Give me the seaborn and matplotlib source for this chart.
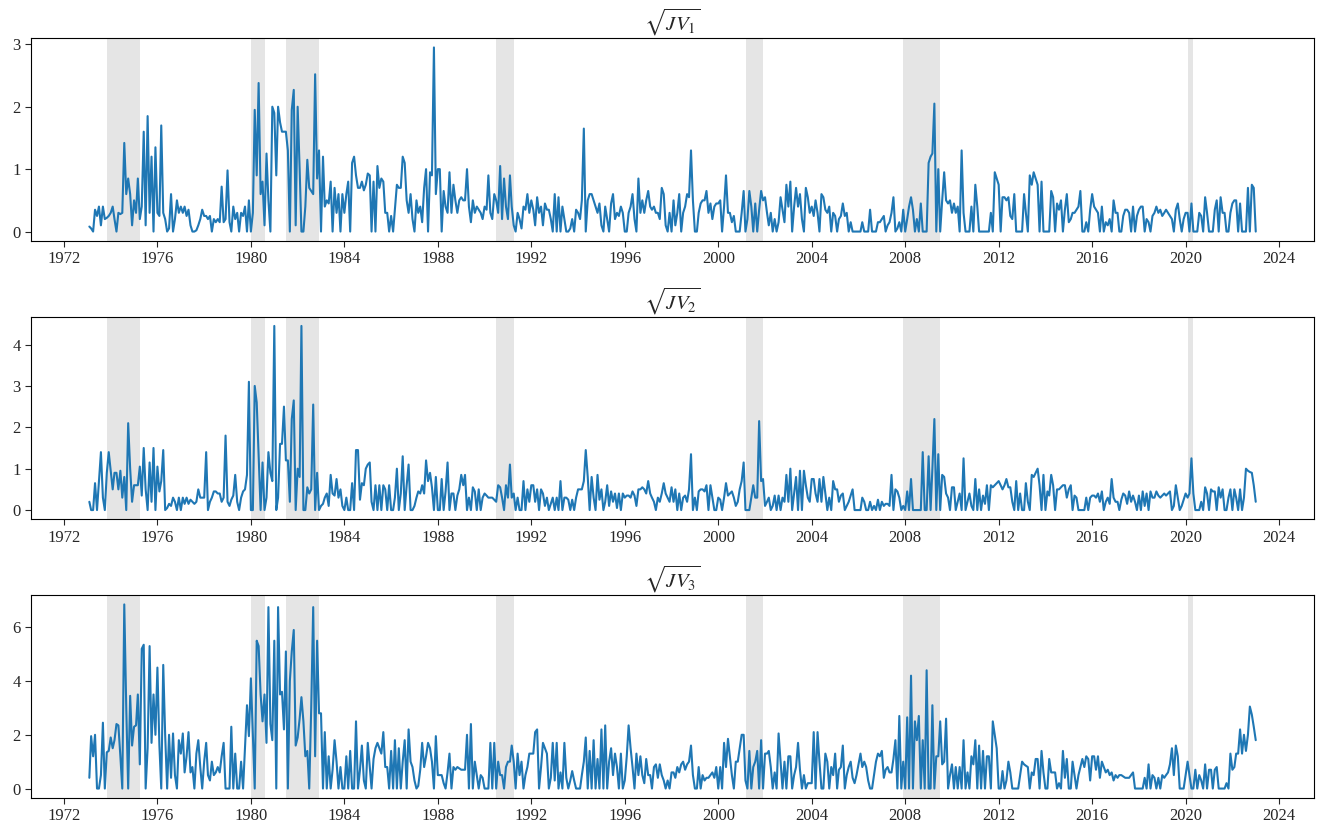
import numpy as np
import pandas as pd
import matplotlib
matplotlib.use("Agg")
import matplotlib.pyplot as plt
import matplotlib.dates as mdates
import seaborn as sns

# ---------------- data (monthly, Jan 1973 - Dec 2022, one row per year) ----------------
jv1 = [
    0.08, 0.05, 0.0, 0.35, 0.25, 0.4, 0.1, 0.4, 0.2, 0.22, 0.25, 0.3,
    0.4, 0.2, 0.0, 0.3, 0.28, 0.3, 1.42, 0.6, 0.85, 0.6, 0.1, 0.5,
    0.3, 0.85, 0.2, 0.4, 1.6, 0.1, 1.85, 0.3, 1.2, 0.0, 1.35, 0.3,
    0.25, 1.7, 0.3, 0.2, 0.0, 0.05, 0.6, 0.0, 0.2, 0.5, 0.3, 0.4,
    0.3, 0.4, 0.25, 0.35, 0.1, 0.0, 0.0, 0.02, 0.1, 0.2, 0.35, 0.25,
    0.25, 0.2, 0.25, 0.0, 0.2, 0.15, 0.2, 0.15, 0.72, 0.15, 0.2, 0.98,
    0.15, 0.0, 0.4, 0.2, 0.3, 0.0, 0.3, 0.25, 0.4, 0.0, 0.5, 0.0,
    0.3, 1.95, 0.9, 2.38, 0.6, 0.8, 0.1, 1.25, 0.5, 0.0, 2.0, 1.9,
    0.9, 2.0, 1.75, 1.6, 1.6, 1.6, 1.3, 0.0, 1.95, 2.27, 0.1, 2.0,
    1.0, 0.0, 0.0, 0.4, 1.15, 0.7, 0.65, 0.6, 2.52, 0.85, 1.3, 0.0,
    1.2, 0.4, 0.5, 0.45, 0.8, 0.0, 0.7, 0.3, 0.6, 0.0, 0.6, 0.3,
    0.6, 0.8, 0.0, 1.1, 1.2, 0.9, 0.7, 0.7, 0.8, 0.66, 0.75, 0.93,
    0.9, 0.0, 0.8, 0.0, 1.05, 0.7, 0.85, 0.8, 0.3, 0.3, 0.0, 0.25,
    0.0, 0.35, 0.75, 0.7, 0.7, 1.2, 1.1, 0.5, 0.3, 0.6, 0.2, 0.0,
    0.5, 0.3, 0.4, 0.15, 0.7, 1.0, 0.0, 0.95, 0.9, 2.95, 0.6, 1.0,
    1.0, 0.0, 0.65, 0.4, 0.3, 0.95, 0.3, 0.75, 0.5, 0.3, 0.5, 0.55,
    0.5, 0.5, 1.0, 0.4, 0.15, 0.5, 0.3, 0.4, 0.35, 0.3, 0.2, 0.4,
    0.35, 0.9, 0.3, 0.2, 0.6, 0.5, 0.3, 1.05, 0.2, 0.85, 0.4, 0.2,
    0.9, 0.4, 0.1, 0.0, 0.3, 0.2, 0.05, 0.4, 0.35, 0.6, 0.3, 0.5,
    0.35, 0.1, 0.55, 0.3, 0.4, 0.1, 0.45, 0.35, 0.35, 0.2, 0.0, 0.6,
    0.0, 0.55, 0.0, 0.4, 0.2, 0.0, 0.0, 0.05, 0.2, 0.0, 0.35, 0.3,
    0.2, 0.5, 1.65, 0.0, 0.5, 0.6, 0.6, 0.5, 0.4, 0.3, 0.45, 0.1,
    0.0, 0.4, 0.2, 0.0, 0.45, 0.6, 0.2, 0.3, 0.25, 0.4, 0.3, 0.0,
    0.0, 0.3, 0.4, 0.6, 0.2, 0.0, 0.85, 0.3, 0.5, 0.3, 0.5, 0.65,
    0.4, 0.35, 0.4, 0.3, 0.3, 0.2, 0.7, 0.6, 0.1, 0.0, 0.3, 0.0,
    0.5, 0.1, 0.3, 0.6, 0.0, 0.3, 0.4, 0.6, 0.55, 1.3, 0.5, 0.0,
    0.0, 0.3, 0.45, 0.5, 0.5, 0.65, 0.3, 0.45, 0.2, 0.4, 0.45, 0.45,
    0.5, 0.0, 0.4, 0.9, 0.3, 0.3, 0.15, 0.25, 0.0, 0.0, 0.0, 0.3,
    0.65, 0.0, 0.2, 0.65, 0.4, 0.0, 0.45, 0.0, 0.35, 0.65, 0.5, 0.55,
    0.3, 0.1, 0.3, 0.0, 0.2, 0.0, 0.15, 0.55, 0.35, 0.15, 0.75, 0.4,
    0.8, 0.0, 0.4, 0.7, 0.4, 0.6, 0.2, 0.0, 0.7, 0.55, 0.3, 0.4,
    0.25, 0.5, 0.3, 0.0, 0.6, 0.55, 0.35, 0.3, 0.4, 0.0, 0.3, 0.25,
    0.0, 0.2, 0.25, 0.45, 0.25, 0.3, 0.0, 0.15, 0.0, 0.0, 0.0, 0.0,
    0.0, 0.15, 0.0, 0.0, 0.0, 0.35, 0.0, 0.0, 0.0, 0.15, 0.15, 0.2,
    0.25, 0.0, 0.1, 0.15, 0.3, 0.55, 0.0, 0.05, 0.15, 0.0, 0.35, 0.0,
    0.2, 0.4, 0.55, 0.35, 0.0, 0.2, 0.0, 0.45, 0.0, 0.0, 0.0, 1.1,
    1.2, 1.25, 2.05, 0.0, 1.0, 0.0, 0.5, 0.95, 0.5, 0.45, 0.5, 0.3,
    0.45, 0.3, 0.4, 0.0, 1.3, 0.3, 0.0, 0.0, 0.0, 0.4, 0.0, 0.75,
    0.4, 0.0, 0.0, 0.0, 0.0, 0.0, 0.0, 0.3, 0.0, 0.95, 0.85, 0.75,
    0.0, 0.55, 0.55, 0.5, 0.55, 0.25, 0.2, 0.6, 0.0, 0.0, 0.0, 0.0,
    0.6, 0.3, 0.0, 0.9, 0.75, 0.95, 0.85, 0.75, 0.0, 0.8, 0.0, 0.0,
    0.0, 0.0, 0.65, 0.55, 0.0, 0.45, 0.35, 0.5, 0.0, 0.35, 0.6, 0.15,
    0.2, 0.3, 0.3, 0.35, 0.4, 0.65, 0.0, 0.0, 0.15, 0.0, 0.35, 0.6,
    0.4, 0.35, 0.3, 0.0, 0.4, 0.0, 0.15, 0.1, 0.2, 0.0, 0.5, 0.3,
    0.3, 0.0, 0.0, 0.25, 0.35, 0.35, 0.3, 0.0, 0.4, 0.0, 0.25, 0.35,
    0.4, 0.4, 0.0, 0.2, 0.15, 0.0, 0.25, 0.3, 0.4, 0.3, 0.35, 0.25,
    0.3, 0.35, 0.3, 0.25, 0.2, 0.0, 0.35, 0.45, 0.2, 0.0, 0.2, 0.3,
    0.3, 0.0, 0.45, 0.0, 0.0, 0.0, 0.3, 0.25, 0.0, 0.55, 0.3, 0.0,
    0.0, 0.0, 0.35, 0.5, 0.0, 0.55, 0.3, 0.3, 0.0, 0.0, 0.3, 0.45,
    0.5, 0.5, 0.0, 0.45, 0.0, 0.0, 0.0, 0.7, 0.0, 0.75, 0.7, 0.0,
]

jv2 = [
    0.2, 0.0, 0.0, 0.65, 0.0, 0.7, 1.4, 0.3, 0.0, 0.9, 1.4, 0.95,
    0.5, 0.9, 0.9, 0.5, 0.95, 0.3, 0.8, 0.0, 2.1, 1.0, 0.2, 0.6,
    0.6, 0.6, 1.05, 0.35, 1.5, 0.5, 0.0, 1.15, 0.2, 1.5, 0.0, 1.05,
    0.45, 0.7, 1.45, 0.0, 0.05, 0.15, 0.1, 0.3, 0.2, 0.0, 0.3, 0.0,
    0.3, 0.15, 0.3, 0.15, 0.25, 0.2, 0.15, 0.2, 0.5, 0.3, 0.3, 0.3,
    1.4, 0.0, 0.2, 0.3, 0.45, 0.45, 0.4, 0.4, 0.2, 0.3, 1.8, 0.2,
    0.1, 0.25, 0.35, 0.85, 0.2, 0.0, 0.3, 0.45, 0.5, 0.85, 3.1, 0.0,
    0.0, 3.0, 2.6, 1.3, 0.0, 1.15, 0.0, 0.3, 1.4, 0.9, 0.7, 4.45,
    0.0, 0.3, 1.6, 1.6, 2.5, 1.2, 1.2, 0.2, 2.2, 2.65, 0.0, 1.0,
    0.8, 4.45, 0.0, 0.0, 0.55, 0.4, 0.5, 2.55, 0.0, 0.9, 0.0, 0.1,
    0.15, 0.3, 0.4, 0.1, 0.85, 0.4, 0.35, 0.75, 0.3, 0.5, 0.1, 0.0,
    0.3, 0.0, 0.0, 0.65, 0.0, 1.45, 1.45, 0.25, 0.65, 0.6, 1.0, 1.1,
    1.15, 0.2, 0.0, 0.6, 0.0, 0.6, 0.0, 0.6, 0.5, 0.0, 0.6, 0.0,
    0.0, 0.3, 1.0, 0.0, 0.4, 1.3, 0.0, 0.6, 1.1, 0.0, 0.0, 0.1,
    0.3, 0.45, 0.4, 0.6, 0.4, 1.2, 0.7, 0.9, 0.55, 0.0, 0.8, 0.0,
    0.0, 0.75, 0.0, 0.45, 1.15, 0.0, 0.4, 0.4, 0.0, 0.35, 0.5, 0.85,
    0.6, 0.85, 0.0, 0.3, 0.0, 0.55, 0.45, 0.0, 0.5, 0.0, 0.3, 0.4,
    0.35, 0.3, 0.3, 0.3, 0.25, 0.2, 0.6, 0.55, 0.3, 0.0, 0.6, 0.3,
    1.1, 0.3, 0.4, 0.0, 0.3, 0.0, 0.0, 0.7, 0.0, 0.5, 0.2, 0.6,
    0.6, 0.2, 0.5, 0.0, 0.5, 0.4, 0.1, 0.3, 0.0, 0.15, 0.3, 0.0,
    0.3, 0.0, 0.7, 0.0, 0.3, 0.3, 0.25, 0.0, 0.25, 0.0, 0.3, 0.5,
    0.5, 0.5, 0.7, 1.45, 0.8, 0.0, 0.8, 0.3, 0.0, 0.85, 0.25, 0.5,
    0.0, 0.2, 0.6, 0.1, 0.45, 0.2, 0.4, 0.05, 0.4, 0.0, 0.4, 0.3,
    0.35, 0.35, 0.3, 0.45, 0.35, 0.1, 0.5, 0.5, 0.55, 0.5, 0.4, 0.7,
    0.4, 0.3, 0.2, 0.0, 0.3, 0.2, 0.4, 0.65, 0.4, 0.3, 0.2, 0.55,
    0.2, 0.5, 0.0, 0.4, 0.0, 0.3, 0.35, 0.2, 0.5, 1.35, 0.0, 0.3,
    0.0, 0.45, 0.5, 0.5, 0.45, 0.6, 0.0, 0.6, 0.3, 0.0, 0.0, 0.3,
    0.25, 0.0, 0.3, 0.65, 0.35, 0.4, 0.45, 0.3, 0.1, 0.2, 0.5, 0.7,
    1.15, 0.0, 0.0, 0.0, 0.3, 0.6, 0.3, 0.3, 2.15, 0.7, 0.75, 0.1,
    0.2, 0.3, 0.0, 0.1, 0.35, 0.0, 0.35, 0.0, 0.3, 0.2, 0.85, 0.2,
    1.0, 0.0, 0.4, 0.8, 0.0, 0.95, 0.0, 0.95, 0.6, 0.3, 0.2, 0.75,
    0.75, 0.4, 0.2, 0.75, 0.2, 0.8, 0.4, 0.0, 0.3, 0.0, 0.7, 0.5,
    0.5, 0.2, 0.35, 0.4, 0.0, 0.1, 0.2, 0.35, 0.5, 0.0, 0.0, 0.0,
    0.0, 0.3, 0.2, 0.0, 0.0, 0.2, 0.0, 0.1, 0.0, 0.25, 0.0, 0.2,
    0.1, 0.15, 0.15, 0.1, 0.85, 0.0, 0.5, 0.45, 0.3, 0.0, 0.1, 0.0,
    0.45, 0.0, 0.75, 0.0, 0.0, 0.0, 0.0, 0.0, 1.4, 0.0, 0.0, 1.3,
    0.0, 1.0, 2.2, 0.0, 1.35, 0.0, 0.85, 0.8, 0.4, 0.3, 0.0, 0.55,
    0.55, 0.0, 0.2, 0.4, 0.0, 1.25, 0.0, 0.2, 0.4, 0.1, 0.0, 0.75,
    0.0, 0.5, 0.0, 0.35, 0.15, 0.6, 0.0, 0.6, 0.55, 0.6, 0.65, 0.7,
    0.6, 0.5, 0.6, 0.75, 0.55, 0.55, 0.2, 0.0, 0.7, 0.0, 0.4, 0.0,
    0.0, 0.65, 0.2, 0.0, 0.85, 0.8, 0.9, 1.0, 0.6, 0.0, 0.85, 0.0,
    0.45, 0.35, 0.85, 0.6, 0.0, 0.5, 0.5, 0.55, 0.6, 0.6, 0.3, 0.5,
    0.6, 0.0, 0.35, 0.3, 0.0, 0.0, 0.0, 0.0, 0.3, 0.0, 0.3, 0.35,
    0.35, 0.3, 0.4, 0.2, 0.45, 0.0, 0.2, 0.3, 0.15, 0.75, 0.3, 0.2,
    0.2, 0.0, 0.25, 0.4, 0.35, 0.15, 0.45, 0.2, 0.35, 0.2, 0.0, 0.35,
    0.0, 0.45, 0.1, 0.4, 0.0, 0.45, 0.3, 0.3, 0.45, 0.35, 0.3, 0.35,
    0.4, 0.35, 0.4, 0.45, 0.0, 0.1, 0.6, 0.3, 0.0, 0.1, 0.25, 0.4,
    0.3, 0.4, 1.25, 0.4, 0.0, 0.0, 0.0, 0.2, 0.0, 0.55, 0.4, 0.0,
    0.5, 0.45, 0.45, 0.0, 0.55, 0.3, 0.5, 0.0, 0.0, 0.3, 0.5, 0.0,
    0.5, 0.3, 0.0, 0.5, 0.0, 0.3, 1.0, 0.95, 0.92, 0.9, 0.6, 0.2,
]

jv3 = [
    0.4, 1.95, 1.2, 2.0, 0.0, 0.0, 0.5, 2.45, 0.0, 1.35, 1.4, 1.9,
    1.5, 1.8, 2.4, 2.35, 1.2, 0.0, 6.85, 3.0, 0.0, 3.45, 1.6, 2.3,
    2.35, 3.5, 0.9, 5.2, 5.35, 0.0, 1.5, 5.3, 1.7, 3.5, 2.0, 4.5,
    1.6, 0.0, 4.6, 2.0, 0.0, 2.0, 0.4, 2.05, 0.5, 0.0, 1.8, 1.3,
    2.05, 0.6, 1.2, 2.1, 0.6, 0.8, 0.0, 1.3, 1.8, 0.8, 0.0, 1.0,
    1.7, 0.5, 0.3, 1.0, 0.5, 0.6, 0.8, 0.6, 1.2, 1.7, 0.0, 0.0,
    0.0, 2.3, 0.0, 1.3, 0.0, 0.0, 1.0, 0.0, 1.5, 3.1, 1.95, 4.1,
    2.0, 0.0, 5.5, 5.3, 3.5, 2.5, 3.5, 1.7, 6.75, 2.4, 1.8, 5.5,
    0.0, 6.75, 3.5, 3.6, 2.2, 5.1, 0.0, 4.0, 5.1, 5.9, 1.6, 1.9,
    2.6, 3.4, 2.5, 1.2, 1.4, 0.0, 3.0, 6.75, 1.2, 5.5, 2.8, 2.8,
    0.0, 2.1, 0.0, 1.2, 0.0, 0.7, 1.8, 1.0, 0.0, 0.8, 0.0, 0.0,
    1.2, 0.0, 1.4, 0.0, 0.0, 2.5, 0.0, 0.7, 1.6, 0.3, 0.0, 1.7,
    0.8, 0.0, 1.1, 1.5, 1.7, 1.5, 1.3, 2.1, 0.8, 0.8, 0.0, 1.4,
    0.0, 1.8, 0.0, 1.5, 0.0, 1.0, 1.8, 0.0, 2.2, 1.0, 0.8, 0.3,
    0.0, 0.1, 0.7, 1.7, 0.8, 1.2, 1.7, 1.5, 1.0, 0.0, 1.95, 0.5,
    0.5, 0.5, 0.2, 0.0, 0.6, 1.3, 0.0, 0.8, 0.7, 0.8, 0.75, 0.7,
    0.7, 0.7, 2.0, 0.0, 2.4, 0.0, 1.0, 0.5, 0.0, 0.5, 0.4, 0.0,
    0.0, 0.0, 1.7, 0.0, 1.7, 0.0, 1.0, 0.5, 0.5, 0.0, 0.8, 1.0,
    1.0, 1.6, 1.0, 0.0, 1.3, 0.5, 1.0, 0.0, 0.5, 0.8, 1.3, 1.3,
    1.3, 2.1, 2.2, 0.0, 0.8, 1.7, 1.5, 1.3, 0.0, 0.4, 1.7, 0.3,
    1.7, 0.0, 0.6, 0.0, 1.7, 0.4, 0.0, 0.3, 0.65, 0.3, 0.0, 0.0,
    0.0, 0.5, 1.0, 1.9, 0.0, 1.4, 0.0, 1.8, 0.0, 1.1, 0.0, 2.2,
    0.0, 2.35, 0.0, 1.0, 1.5, 0.5, 1.3, 0.8, 0.0, 1.3, 0.0, 0.3,
    1.2, 2.35, 1.5, 0.8, 0.0, 1.3, 0.5, 1.2, 0.5, 0.2, 1.1, 0.5,
    0.5, 0.0, 0.8, 0.9, 0.4, 0.9, 0.5, 0.3, 0.0, 0.3, 0.0, 0.6,
    0.6, 0.4, 0.8, 0.6, 0.9, 1.0, 0.7, 0.9, 1.0, 1.6, 0.5, 0.0,
    0.0, 0.8, 0.0, 0.5, 0.3, 0.4, 0.4, 0.5, 0.6, 0.4, 0.8, 0.0,
    0.8, 0.0, 1.7, 0.8, 1.85, 1.2, 0.5, 0.0, 1.0, 1.0, 1.5, 2.0,
    2.0, 0.3, 0.0, 1.4, 0.0, 0.8, 1.0, 1.4, 0.0, 1.8, 0.0, 1.3,
    1.3, 1.4, 0.8, 0.0, 0.6, 0.0, 2.05, 1.0, 0.0, 1.0, 0.0, 1.2,
    1.2, 0.0, 0.5, 0.8, 1.7, 0.7, 0.0, 0.5, 0.0, 0.2, 0.2, 0.2,
    2.1, 0.0, 2.1, 1.0, 0.0, 0.0, 1.3, 1.0, 0.0, 0.8, 0.5, 1.3,
    0.0, 0.7, 0.8, 1.6, 0.0, 0.5, 0.8, 1.0, 0.4, 0.2, 0.5, 0.9,
    1.3, 0.8, 1.0, 0.8, 0.3, 0.0, 0.0, 0.5, 1.0, 1.3, 1.2, 1.4,
    0.4, 0.7, 0.8, 0.6, 0.6, 1.1, 1.8, 0.0, 2.7, 0.0, 1.0, 0.0,
    2.65, 0.0, 4.2, 0.0, 2.5, 1.8, 2.7, 0.0, 1.8, 0.0, 4.4, 0.0,
    0.0, 3.1, 0.0, 1.2, 1.2, 2.5, 0.9, 1.0, 2.6, 0.0, 0.5, 0.9,
    0.0, 0.8, 0.0, 0.8, 0.0, 1.8, 0.0, 0.6, 0.0, 1.2, 0.9, 1.8,
    0.0, 1.6, 0.0, 1.4, 0.0, 1.2, 1.2, 0.0, 2.5, 2.0, 1.5, 0.0,
    0.0, 0.65, 0.0, 0.3, 1.0, 0.6, 0.0, 0.0, 0.0, 0.0, 0.5, 1.0,
    0.9, 0.85, 0.8, 0.0, 0.6, 0.5, 1.1, 1.1, 0.0, 1.4, 0.6, 0.0,
    0.0, 1.1, 0.6, 0.6, 0.6, 0.0, 0.2, 0.0, 1.4, 0.4, 1.1, 0.0,
    0.0, 1.0, 0.5, 0.0, 0.5, 0.8, 1.1, 0.8, 1.2, 1.1, 0.3, 1.2,
    1.2, 0.7, 1.2, 0.4, 1.0, 0.8, 0.6, 0.7, 0.5, 0.6, 0.3, 0.5,
    0.4, 0.5, 0.5, 0.45, 0.4, 0.4, 0.4, 0.5, 0.6, 0.0, 0.0, 0.0,
    0.0, 0.0, 0.4, 0.0, 0.9, 0.0, 0.5, 0.4, 0.0, 0.4, 0.0, 0.5,
    0.4, 0.5, 0.6, 0.9, 1.5, 0.5, 1.6, 1.2, 0.0, 0.0, 0.0, 0.5,
    1.0, 0.5, 0.0, 0.0, 0.7, 0.0, 0.5, 0.3, 0.0, 0.9, 0.0, 0.7,
    0.7, 0.0, 0.7, 0.8, 0.0, 0.0, 0.0, 0.0, 0.2, 0.0, 1.3, 0.7,
    0.8, 1.3, 1.3, 2.2, 1.3, 2.0, 1.4, 2.0, 3.05, 2.75, 2.3, 1.8,
]

titles = [r"$\sqrt{JV_1}$", r"$\sqrt{JV_2}$", r"$\sqrt{JV_3}$"]

# NBER recessions (peak, trough)
rec_start = ["1973-11-01", "1980-01-01", "1981-07-01", "1990-07-01",
             "2001-03-01", "2007-12-01", "2020-02-01"]
rec_end = ["1975-03-31", "1980-07-31", "1982-11-30", "1991-03-31",
           "2001-11-30", "2009-06-30", "2020-04-30"]

# ---------------- plot ----------------
try:
    dates = pd.date_range("1973-01-31", periods=len(jv1), freq="ME")
except Exception:
    dates = pd.date_range("1973-01-31", periods=len(jv1), freq="M")

df = pd.DataFrame({"date": dates, "jv1": jv1, "jv2": jv2, "jv3": jv3})

sns.set_theme(style="ticks")
plt.rcParams["font.family"] = ["Liberation Serif", "DejaVu Serif"]
plt.rcParams["mathtext.fontset"] = "stix"

fig, axes = plt.subplots(3, 1, figsize=(13.2, 8.31), dpi=100)
fig.subplots_adjust(left=0.0235, right=0.9955, top=0.954, bottom=0.040, hspace=0.375)

for ax, col, title in zip(axes, ["jv1", "jv2", "jv3"], titles):
    for s, e in zip(rec_start, rec_end):
        ax.axvspan(pd.Timestamp(s), pd.Timestamp(e), color="#e5e5e5", lw=0, zorder=0)
    sns.lineplot(data=df, x="date", y=col, ax=ax, color="#1f77b4", lw=1.5, zorder=2)
    ax.set_title(title, fontsize=15, pad=4)
    ax.set_xlabel("")
    ax.set_ylabel("")
    ax.xaxis.set_major_locator(mdates.YearLocator(4))
    ax.xaxis.set_major_formatter(mdates.DateFormatter("%Y"))
    ax.tick_params(axis="both", labelsize=12, length=4, width=0.8, direction="out")
    for sp in ax.spines.values():
        sp.set_visible(True)
        sp.set_linewidth(0.8)
        sp.set_color("black")

fig.savefig("out.png", dpi=100)
